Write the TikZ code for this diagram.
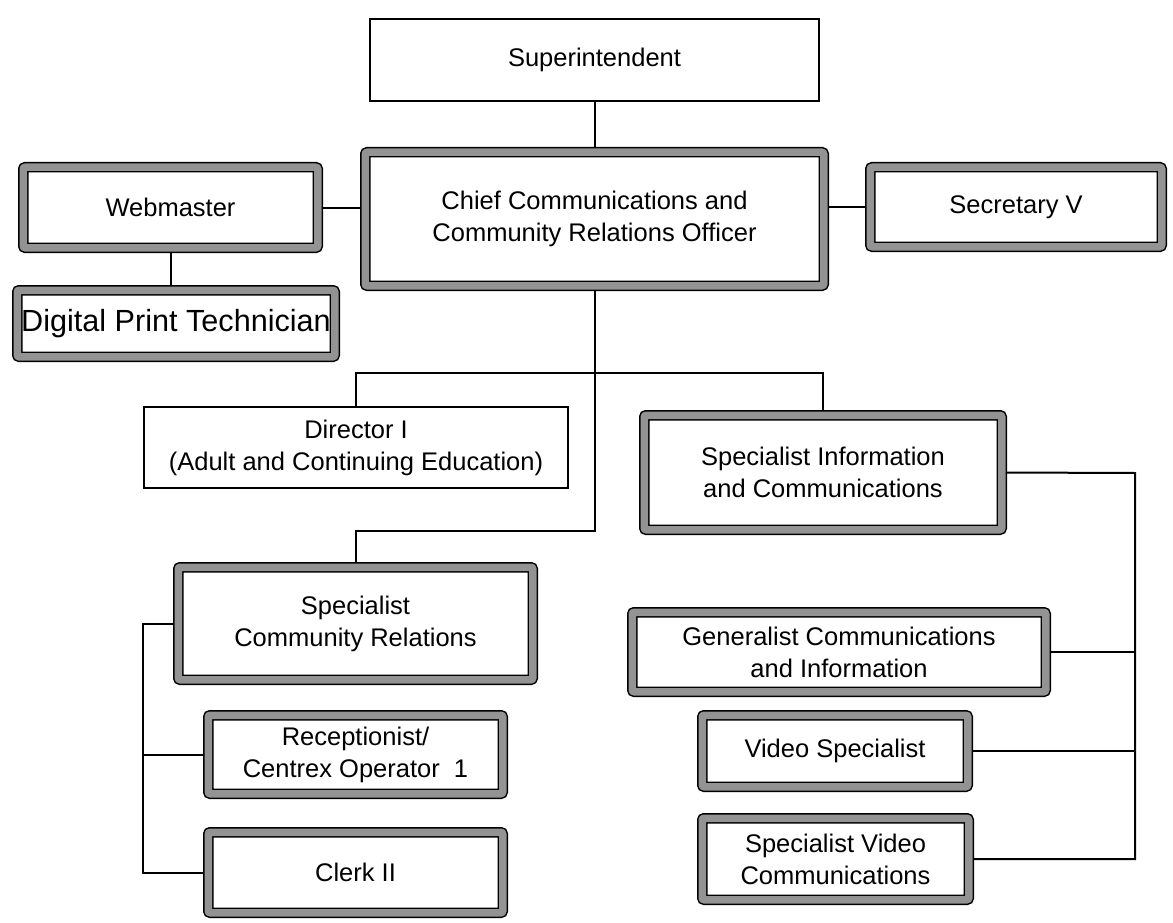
\documentclass[tikz,border=0pt]{standalone}
\usepackage{fontspec}
\setmainfont{Liberation Sans}
\usetikzlibrary{positioning, backgrounds, calc}

\tikzset{
    post/.style={draw=black, line width=1.5pt, double=gray!85, double distance=7.5pt,
        fill=white, rounded corners=2pt, align=center, inner sep=0pt,
        font=\fontsize{25.5}{32}\selectfont},
    postsize/.style 2 args={minimum width=#1-10.5, minimum height=#2-10.5},
    plainpost/.style={draw=black, line width=2pt, fill=white, align=center, inner sep=0pt,
        font=\fontsize{25.5}{32}\selectfont},
    plainsize/.style 2 args={minimum width=#1-2, minimum height=#2-2},
    link/.style={black, line width=2pt}
}

\begin{document}
\begin{tikzpicture}[x=1pt, y=-1pt]
    \useasboundingbox (0,0) rectangle (1173,923);

    % top rows
    \node[plainpost, plainsize={451}{84}] (sup) at (594.5,60) {Superintendent};
    \node[post, postsize={469}{144}] (chief) at (594.5,219)
        {Chief Communications and\\Community Relations Officer};
    \node[post, postsize={305}{91}] (web) at (170.5,207.5) {Webmaster};
    \node[post, postsize={302}{90}] (sec) at (1016,207) {Secretary V};
    \node[post, postsize={328}{77}, font=\fontsize{30.6}{36}\selectfont] (dpt) at (176,323.5)
        {Digital Print Technician};

    % middle row
    \node[plainpost, plainsize={426}{83}] (dir) at (356,447.5)
        {Director I\\(Adult and Continuing Education)};
    \node[post, postsize={368}{125}] (specinfo) at (823,472.5)
        {Specialist Information\\and Communications};

    % left group
    \node[post, postsize={365}{123}] (commrel) at (355.5,623.5)
        {Specialist\\Community Relations};
    \node[post, postsize={305}{89}] (recep) at (355.5,754.5)
        {Receptionist/\\Centrex Operator~~1};
    \node[post, postsize={305}{91}] (clerk) at (355.5,872.5) {Clerk II};

    % right group
    \node[post, postsize={424}{90}] (geninfo) at (839,652)
        {Generalist Communications\\and Information};
    \node[post, postsize={276}{82}] (videospec) at (835,751) {Video Specialist};
    \node[post, postsize={277}{92}] (specvideo) at (835.5,859)
        {Specialist Video\\Communications};

    \coordinate (split) at (594.5,373);
    \coordinate (jog) at (594.5,531);
    \coordinate (rbus) at (1135,473);
    \coordinate (lbus) at (143,623.5);

    \begin{scope}[on background layer]
        \draw[link] (sup) -- (chief);
        \draw[link] (web.east) -- (web.east -| chief.west);
        \draw[link] (chief.east |- sec.west) -- (sec.west);
        \draw[link] (web.south) -- (web.south |- dpt.north);

        % down from the officer
        \draw[link] (chief.south) -- (jog) -| (commrel.north);
        \draw[link] (dir.north) |- (split) -| (specinfo.north);

        % right bus
        \draw[link] (specinfo.east) -- (rbus) |- (specvideo.east);
        \foreach \b in {geninfo, videospec}
        {
            \draw[link] (\b.east) -- (\b.east -| rbus);
        }

        % left bus
        \draw[link] (commrel.west) -- (lbus) |- (clerk.west);
        \draw[link] (recep.west) -- (recep.west -| lbus);
    \end{scope}
\end{tikzpicture}
\end{document}
